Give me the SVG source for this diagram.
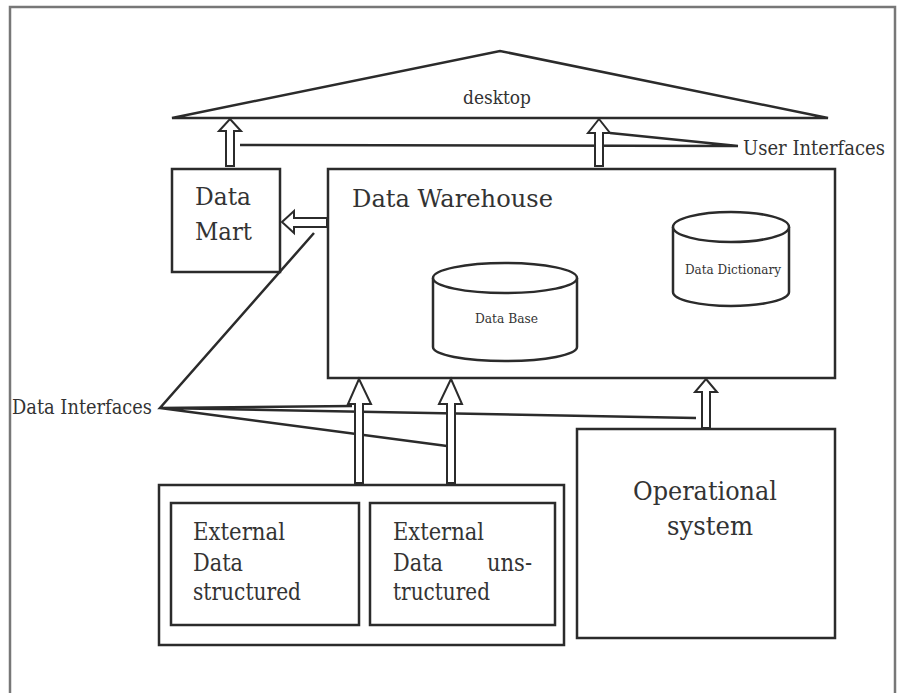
<svg xmlns="http://www.w3.org/2000/svg" width="901" height="693" viewBox="0 0 901 693">
<style>
.s{fill:none;stroke:#2b2b2b;stroke-width:2.5}
.b{fill:#fff;stroke:#2b2b2b;stroke-width:2.5}
.a{fill:#fff;stroke:#2b2b2b;stroke-width:2;stroke-linejoin:miter}
.t{fill:#333;font-family:"DejaVu Serif",serif}
</style>
<rect x="0" y="0" width="901" height="693" fill="#fff"/>
<path d="M10,693 V7 H895 V693" fill="none" stroke="#777" stroke-width="2.5"/>
<g id="desktop">
<path class="s" d="M172,118 L500,51 L828,118 Z"/>
<text class="t" x="463" y="104" font-size="19" textLength="68" lengthAdjust="spacingAndGlyphs">desktop</text>
</g>
<g id="data-mart">
<rect class="b" x="172" y="169" width="108" height="103"/>
<text class="t" x="195" y="205" font-size="25" textLength="56" lengthAdjust="spacingAndGlyphs">Data</text>
<text class="t" x="195" y="240" font-size="25" textLength="57" lengthAdjust="spacingAndGlyphs">Mart</text>
</g>
<g id="data-warehouse">
<rect class="b" x="328" y="169" width="507" height="209"/>
<text class="t" x="352" y="207" font-size="25" textLength="201" lengthAdjust="spacingAndGlyphs">Data Warehouse</text>
</g>
<g id="data-base">
<path class="b" d="M433,278 V347 A72,14 0 0 0 577,347 V278"/>
<ellipse class="b" cx="505" cy="278" rx="72" ry="15"/>
<text class="t" x="475" y="323" font-size="12.5" textLength="63" lengthAdjust="spacingAndGlyphs">Data Base</text>
</g>
<g id="data-dictionary">
<path class="b" d="M673,227 V292 A58,14 0 0 0 789,292 V227"/>
<ellipse class="b" cx="731" cy="227" rx="58" ry="15"/>
<text class="t" x="685" y="274" font-size="12.5" textLength="96" lengthAdjust="spacingAndGlyphs">Data Dictionary</text>
</g>
<g id="external-data">
<rect class="b" x="159" y="485" width="405" height="160"/>
</g>
<g id="external-structured">
<rect class="b" x="171" y="503" width="188" height="122"/>
<text class="t" x="193" y="540" font-size="24" textLength="92" lengthAdjust="spacingAndGlyphs">External</text>
<text class="t" x="193" y="571" font-size="24" textLength="50" lengthAdjust="spacingAndGlyphs">Data</text>
<text class="t" x="193" y="600" font-size="24" textLength="108" lengthAdjust="spacingAndGlyphs">structured</text>
</g>
<g id="external-unstructured">
<rect class="b" x="370" y="503" width="185" height="122"/>
<text class="t" x="393" y="540" font-size="24" textLength="91" lengthAdjust="spacingAndGlyphs">External</text>
<text class="t" x="393" y="571" font-size="24" textLength="50" lengthAdjust="spacingAndGlyphs">Data</text>
<text class="t" x="487" y="571" font-size="24" textLength="45" lengthAdjust="spacingAndGlyphs">uns-</text>
<text class="t" x="393" y="600" font-size="24" textLength="97" lengthAdjust="spacingAndGlyphs">tructured</text>
</g>
<g id="operational-system">
<rect class="b" x="577" y="429" width="258" height="209"/>
<text class="t" x="633" y="500" font-size="26" textLength="144" lengthAdjust="spacingAndGlyphs">Operational</text>
<text class="t" x="667" y="535" font-size="26" textLength="86" lengthAdjust="spacingAndGlyphs">system</text>
</g>
<g id="labels">
<text class="t" x="743" y="155" font-size="19.5" textLength="142" lengthAdjust="spacingAndGlyphs">User Interfaces</text>
<text class="t" x="12" y="414" font-size="19.5" textLength="140" lengthAdjust="spacingAndGlyphs">Data Interfaces</text>
</g>
<g id="connectors">
<path class="s" d="M240,145 L738,146 M610,133 L738,146"/>
<path class="s" d="M314,233 L160,408 L352,406 M160,408 L696,418 M160,408 L447,446"/>
<path class="a" d="M230,119 L241,131 L234,131 L234,166 L226,166 L226,131 L219,131 Z"/>
<path class="a" d="M599,119 L610,133 L603,133 L603,166 L595,166 L595,133 L588,133 Z"/>
<path class="a" d="M282,222 L294,211 L294,218 L327,218 L327,227 L294,227 L294,233 Z"/>
<path class="a" d="M359,379 L371,404 L363,404 L363,483 L355,483 L355,404 L348,404 Z"/>
<path class="a" d="M451,379 L462,404 L455,404 L455,483 L447,483 L447,404 L439,404 Z"/>
<path class="a" d="M706,379 L717,392 L710,392 L710,428 L702,428 L702,392 L695,392 Z"/>
</g>
</svg>
